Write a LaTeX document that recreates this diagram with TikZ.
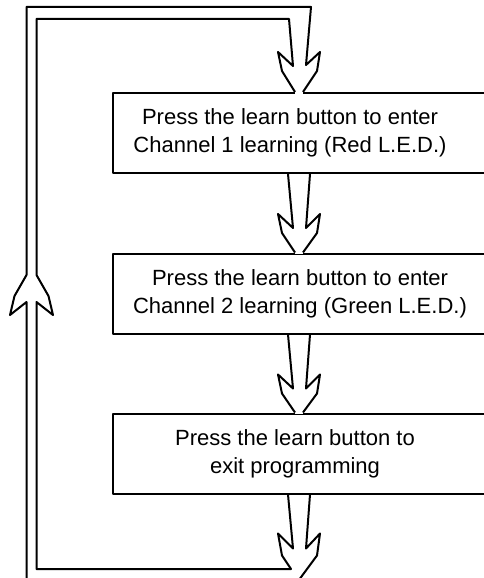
\documentclass[tikz,border=0pt]{standalone}
\usepackage{fontspec}
\setmainfont{Liberation Sans}
\usetikzlibrary{calc}
\newcommand{\dnarrow}[2]{%
  \draw ($(#1.south)+(-11,0)$) -- ($(#1.south)+(-6,54)$) -- ($(#1.south)+(-21,40)$) -- ($(#1.south)+(-17,59)$) -- ($(#2.north)+(-4,0)$);
  \draw ($(#1.south)+(11,0)$) -- ($(#1.south)+(7,54)$) -- ($(#1.south)+(21,40)$) -- ($(#1.south)+(18,59)$) -- ($(#2.north)+(4,0)$);
}
\begin{document}
\begin{tikzpicture}[x=1pt,y=-1pt,line width=2pt,line join=round,
  box/.style={draw,minimum width=372pt,minimum height=80pt,inner sep=0pt,fill=white},
  lbl/.style={font=\fontsize{22}{28}\selectfont,align=center,inner sep=0pt}]
\useasboundingbox (0,0) rectangle (483,578);
% boxes
\node[box] (b1) at (299,133) {};
\node[box] (b2) at (299,293.5) {};
\node[box] (b3) at (299,453.5) {};
\node[lbl] (t1) at ($(b1.center)+(-9,0)$) {Press the learn button to enter\\Channel 1 learning (Red L.E.D.)};
\node[lbl] (t2) at ($(b2.center)+(1,0)$) {Press the learn button to enter\\Channel 2 learning (Green L.E.D.)};
\node[lbl] (t3) at ($(b3.center)+(-4,0)$) {Press the learn button to\\exit programming};
% gaps where arrows enter boxes
\foreach \b in {b1,b2,b3}
  \fill[white] ($(\b.north)+(-4,-1.5)$) rectangle ($(\b.north)+(4,1.5)$);
% loop corners
\coordinate (itl) at (36.5,19);
\coordinate (itr) at (289,19);
\coordinate (otl) at (26.5,7);
\coordinate (otr) at (311,7);
\coordinate (ua) at (31.5,275);
\coordinate (ibx) at ($(b3.south)+(-8,74.5)$);
\coordinate (obx) at ($(b3.south)+(-3.4,90)$);
% arrows between boxes
\dnarrow{b1}{b2}
\dnarrow{b2}{b3}
% inner loop line
\draw ($(b3.south)+(-11,0)$) -- ($(b3.south)+(-6,54)$) -- ($(b3.south)+(-21,39)$) -- ($(b3.south)+(-17,61)$)
  -- (ibx) -- (itl |- ibx) -- ($(ua)+(5,27)$) -- ($(ua)+(21.5,40)$) -- ($(ua)+(17,21)$) -- ($(ua)+(5,0)$)
  -- (itl) -- (itr) -- ($(b1.north)+(-6,-26)$) -- ($(b1.north)+(-21,-40)$) -- ($(b1.north)+(-17,-21)$) -- ($(b1.north)+(-4,0)$);
% outer loop line
\draw ($(b3.south)+(11,0)$) -- ($(b3.south)+(7,54)$) -- ($(b3.south)+(21,39)$) -- ($(b3.south)+(18,61)$)
  -- (obx) -- (otl |- obx) -- ($(ua)+(-5,27)$) -- ($(ua)+(-21.5,40)$) -- ($(ua)+(-17,21)$) -- ($(ua)+(-5,0)$)
  -- (otl) -- (otr) -- ($(b1.north)+(7,-27)$) -- ($(b1.north)+(21,-40)$) -- ($(b1.north)+(18,-21)$) -- ($(b1.north)+(4,0)$);
\end{tikzpicture}
\end{document}
